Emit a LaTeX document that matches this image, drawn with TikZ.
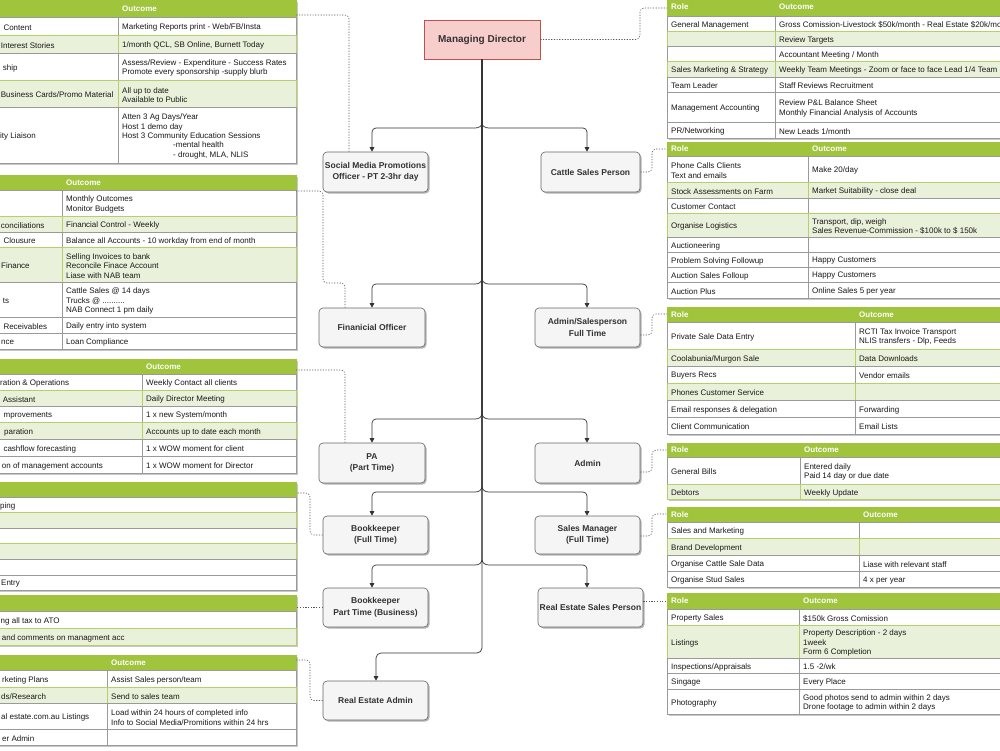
\documentclass[tikz,border=0pt]{standalone}
\usepackage{fontspec}
\setmainfont{Liberation Sans}
\usetikzlibrary{arrows.meta,shadows,calc}
\definecolor{hgreen}{HTML}{A0C43C}
\definecolor{lgreen}{HTML}{EAF1DA}
\definecolor{gline}{HTML}{B5CF6B}
\definecolor{wline}{HTML}{9A9A9A}
\definecolor{nodefill}{HTML}{F5F5F5}
\definecolor{nodeline}{HTML}{666666}
\definecolor{mdfill}{HTML}{F8CECC}
\definecolor{mdline}{HTML}{B85450}
\definecolor{txt}{HTML}{333333}
\newcounter{cellno}
\tikzset{
  tw/.style={fill=white, draw=wline, line width=0.6pt},
  tg/.style={fill=lgreen, draw=gline, line width=0.6pt},
  th/.style={fill=hgreen, draw=hgreen, line width=0.6pt},
  celltext/.style={anchor=west, inner sep=0pt, yshift=-1.5pt, align=left, font=\fontsize{8}{9.4}\selectfont, text=black!90},
  headtext/.style={anchor=west, inner sep=0pt, font=\bfseries\fontsize{8}{9.4}\selectfont, text=white},
  org/.style={rectangle, rounded corners=4pt, fill=nodefill, draw=nodeline, line width=0.6pt, align=center, inner xsep=1pt, font=\bfseries\fontsize{8.5}{11.5}\selectfont, text=txt, drop shadow={shadow xshift=1.5pt, shadow yshift=-1.5pt, opacity=0.3, fill=black}},
  mdbox/.style={rectangle, fill=mdfill, draw=mdline, line width=0.6pt, font=\bfseries\fontsize{10}{12}\selectfont, text=txt, minimum width=116pt, minimum height=39pt},
  conn/.style={draw=black!80, line width=0.7pt, -{Triangle[width=4.5pt,length=4.5pt]}},
  dotc/.style={draw=black!65, line width=0.6pt, dash pattern=on 1.2pt off 1.5pt, rounded corners=4pt},
  tshadow/.style={fill=black, opacity=0.22}
}
% #1 x0, #2 xs, #3 x2, #4 y0, #5 y1, #6 style, #7 rolex, #8 role, #9 outcome
\newcommand\tbrow[9]{%
  \draw[#6] (#1,#4) rectangle (#2,#5);
  \draw[#6] (#2,#4) rectangle (#3,#5);
  \stepcounter{cellno}%
  \node[celltext] (r\arabic{cellno}) at (#7,{(#4+#5)/2}) {#8};
  \node[celltext] (o\arabic{cellno}) at (#2+4,{(#4+#5)/2}) {#9};
}
% #1 x0, #2 xs, #3 x2, #4 y0, #5 y1, #6 rolex, #7 role, #8 outcome
\newcommand\tbhead[8]{%
  \draw[th] (#1,#4) rectangle (#3,#5);
  \stepcounter{cellno}%
  \node[headtext] (hr\arabic{cellno}) at (#6,{(#4+#5)/2}) {#7};
  \node[headtext] (ho\arabic{cellno}) at (#2+4,{(#4+#5)/2}) {#8};
}
\newcommand\tbshadow[4]{\fill[tshadow] (#1+2,#2+2) rectangle (#3+2,#4+2);}
\newcommand\brL[3]{\draw[conn] (md.south) -- (482,#3) .. controls (482,#2-2) and (479,#2) .. (475,#2) [rounded corners=4pt] -| (#1.north -| axL);}
\newcommand\brR[3]{\draw[conn] (md.south) -- (482,#3) .. controls (482,#2-2) and (485,#2) .. (489,#2) [rounded corners=4pt] -| (#1.north -| axR);}
\begin{document}
\begin{tikzpicture}[x=1pt,y=-1pt]
\useasboundingbox (0,0) rectangle (1000,750);
\clip (0,0) rectangle (1000,750);

% ---------- left tables ----------
\tbshadow{-200}{0}{296}{163}
\tbhead{-200}{118}{296}{0}{17}{-100}{}{Outcome}
\tbrow{-200}{118}{296}{17}{35}{tw}{3.3}{Content}{Marketing Reports print - Web/FB/Insta}
\tbrow{-200}{118}{296}{35}{53}{tg}{0.7}{Interest Stories}{1/month QCL, SB Online, Burnett Today}
\tbrow{-200}{118}{296}{53}{80}{tw}{2.7}{ship}{Assess/Review - Expenditure - Success Rates\\Promote every sponsorship -supply blurb}
\tbrow{-200}{118}{296}{80}{107}{tg}{0.7}{Business Cards/Promo Material}{All up to date\\Available to Public}
\tbrow{-200}{118}{296}{107}{163}{tw}{0}{ity Liaison}{Atten 3 Ag Days/Year\\Host 1 demo day\\Host 3 Community Education Sessions\\\hspace*{51pt}-mental health\\\hspace*{51pt}- drought, MLA, NLIS}

\tbshadow{-200}{175}{296}{349}
\tbhead{-200}{62}{296}{175}{190}{-100}{}{Outcome}
\tbrow{-200}{62}{296}{190}{216}{tw}{0}{}{Monthly Outcomes\\Monitor Budgets}
\tbrow{-200}{62}{296}{216}{232}{tg}{0.7}{conciliations}{Financial Control - Weekly}
\tbrow{-200}{62}{296}{232}{247}{tw}{3.3}{Clousure}{Balance all Accounts - 10 workday from end of month}
\tbrow{-200}{62}{296}{247}{282}{tg}{1}{Finance}{Selling Invoices to bank\\Reconcile Finace Account\\Liase with NAB team}
\tbrow{-200}{62}{296}{282}{317}{tw}{2.7}{ts}{Cattle Sales @ 14 days\\Trucks @ ..........\\NAB Connect 1 pm daily}
\tbrow{-200}{62}{296}{317}{333}{tw}{3.3}{Receivables}{Daily entry into system}
\tbrow{-200}{62}{296}{333}{349}{tw}{1}{nce}{Loan Compliance}

\tbshadow{-200}{359}{296}{473}
\tbhead{-200}{142}{296}{359}{374}{-100}{}{Outcome}
\tbrow{-200}{142}{296}{374}{390}{tw}{0}{ration \& Operations}{Weekly Contact all clients}
\tbrow{-200}{142}{296}{390}{406}{tg}{2.7}{Assistant}{Daily Director Meeting}
\tbrow{-200}{142}{296}{406}{422}{tw}{3.5}{mprovements}{1 x new System/month}
\tbrow{-200}{142}{296}{422}{439}{tg}{4}{paration}{Accounts up to date each month}
\tbrow{-200}{142}{296}{439}{456}{tw}{3.3}{cashflow forecasting}{1 x WOW moment for client}
\tbrow{-200}{142}{296}{456}{473}{tw}{1.7}{on of management accounts}{1 x WOW moment for Director}

\tbshadow{-200}{482}{296}{590}
\tbhead{-200}{-50}{296}{482}{497}{-100}{}{}
\tbrow{-200}{-50}{296}{497}{512}{tw}{0}{ping}{}
\tbrow{-200}{-50}{296}{512}{528}{tg}{0}{}{}
\tbrow{-200}{-50}{296}{528}{543}{tw}{0}{}{}
\tbrow{-200}{-50}{296}{543}{559}{tg}{0}{}{}
\tbrow{-200}{-50}{296}{559}{575}{tw}{0}{}{}
\tbrow{-200}{-50}{296}{575}{590}{tw}{1}{Entry}{}

\tbshadow{-200}{595}{296}{645}
\tbhead{-200}{-50}{296}{595}{611}{-100}{}{}
\tbrow{-200}{-50}{296}{611}{628}{tw}{0.5}{ng all tax to ATO}{}
\tbrow{-200}{-50}{296}{628}{645}{tg}{1.7}{and comments on managment acc}{}

\tbshadow{-200}{655}{296}{745}
\tbhead{-200}{107}{296}{655}{670}{-100}{}{Outcome}
\tbrow{-200}{107}{296}{670}{687}{tw}{2}{rketing Plans}{Assist Sales person/team}
\tbrow{-200}{107}{296}{687}{703}{tg}{1}{ds/Research}{Send to sales team}
\tbrow{-200}{107}{296}{703}{729}{tw}{1}{al estate.com.au Listings}{Load within 24 hours of completed info\\Info to Social Media/Promitions within 24 hrs}
\tbrow{-200}{107}{296}{729}{745}{tw}{2}{er Admin}{}

% ---------- right tables ----------
\tbshadow{667}{-2}{1010}{138}
\tbhead{667}{775}{1010}{-2}{16}{671}{Role}{Outcome}
\tbrow{667}{775}{1010}{16}{31}{tw}{671}{General Management}{Gross Comission-Livestock \$50k/month - Real Estate \$20k/month}
\tbrow{667}{775}{1010}{31}{46}{tg}{671}{}{Review Targets}
\tbrow{667}{775}{1010}{46}{61}{tw}{671}{}{Accountant Meeting / Month}
\tbrow{667}{775}{1010}{61}{77}{tg}{671}{Sales Marketing \& Strategy}{Weekly Team Meetings - Zoom or face to face Lead 1/4 Team M}
\tbrow{667}{775}{1010}{77}{92}{tw}{671}{Team Leader}{Staff Reviews Recruitment}
\tbrow{667}{775}{1010}{92}{122}{tw}{671}{Management Accounting}{Review P\&L Balance Sheet\\Monthly Financial Analysis of Accounts}
\tbrow{667}{775}{1010}{122}{138}{tw}{671}{PR/Networking}{New Leads 1/month}

\tbshadow{667}{142}{1010}{298}
\tbhead{667}{808}{1010}{142}{156}{671}{Role}{Outcome}
\tbrow{667}{808}{1010}{156}{182}{tw}{671}{Phone Calls Clients\\Text and emails}{Make 20/day}
\tbrow{667}{808}{1010}{182}{198}{tg}{671}{Stock Assessments on Farm}{Market Suitability - close deal}
\tbrow{667}{808}{1010}{198}{213}{tw}{671}{Customer Contact}{}
\tbrow{667}{808}{1010}{213}{237}{tg}{671}{Organise Logistics}{Transport, dip, weigh\\Sales Revenue-Commission - \$100k to \$ 150k}
\tbrow{667}{808}{1010}{237}{252}{tw}{671}{Auctioneering}{}
\tbrow{667}{808}{1010}{252}{267}{tw}{671}{Problem Solving Followup}{Happy Customers}
\tbrow{667}{808}{1010}{267}{282}{tw}{671}{Auction Sales Folloup}{Happy Customers}
\tbrow{667}{808}{1010}{282}{298}{tw}{671}{Auction Plus}{Online Sales 5 per year}

\tbshadow{667}{307}{1010}{434}
\tbhead{667}{855}{1010}{307}{322}{671}{Role}{Outcome}
\tbrow{667}{855}{1010}{322}{349}{tw}{671}{Private Sale Data Entry}{RCTI Tax Invoice Transport\\NLIS transfers - Dlp, Feeds}
\tbrow{667}{855}{1010}{349}{366}{tg}{671}{Coolabunia/Murgon Sale}{Data Downloads}
\tbrow{667}{855}{1010}{366}{383}{tw}{671}{Buyers Recs}{Vendor emails}
\tbrow{667}{855}{1010}{383}{400}{tg}{671}{Phones Customer Service}{}
\tbrow{667}{855}{1010}{400}{417}{tw}{671}{Email responses \& delegation}{Forwarding}
\tbrow{667}{855}{1010}{417}{434}{tw}{671}{Client Communication}{Email Lists}

\tbshadow{667}{443}{1010}{499}
\tbhead{667}{800}{1010}{443}{457}{671}{Role}{Outcome}
\tbrow{667}{800}{1010}{457}{484}{tw}{671}{General Bills}{Entered daily\\Paid 14 day or due date}
\tbrow{667}{800}{1010}{484}{499}{tg}{671}{Debtors}{Weekly Update}

\tbshadow{667}{507}{1010}{587}
\tbhead{667}{859}{1010}{507}{522}{671}{Role}{Outcome}
\tbrow{667}{859}{1010}{522}{538}{tw}{671}{Sales and Marketing}{}
\tbrow{667}{859}{1010}{538}{555}{tg}{671}{Brand Development}{}
\tbrow{667}{859}{1010}{555}{571}{tw}{671}{Organise Cattle Sale Data}{Liase with relevant staff}
\tbrow{667}{859}{1010}{571}{587}{tw}{671}{Organise Stud Sales}{4 x per year}

\tbshadow{667}{593}{1010}{714}
\tbhead{667}{799}{1010}{593}{609}{671}{Role}{Outcome}
\tbrow{667}{799}{1010}{609}{625}{tw}{671}{Property Sales}{\$150k Gross Comission}
\tbrow{667}{799}{1010}{625}{658}{tg}{671}{Listings}{Property Description - 2 days\\1week\\Form 6 Completion}
\tbrow{667}{799}{1010}{658}{673}{tw}{671}{Inspections/Appraisals}{1.5 -2/wk}
\tbrow{667}{799}{1010}{673}{689}{tw}{671}{Singage}{Every Place}
\tbrow{667}{799}{1010}{689}{714}{tw}{671}{Photography}{Good photos send to admin within 2 days\\Drone footage to admin within 2 days}

% ---------- org nodes ----------
\node[mdbox] (md) at (482,39.5) {Managing Director};
\node[org, minimum width=105pt, minimum height=40pt] (smo) at (375.5,172) {Social Media Promotions\\Officer - PT 2-3hr day};
\node[org, minimum width=99pt, minimum height=40pt] (csp) at (590.5,172) {Cattle Sales Person};
\node[org, minimum width=106pt, minimum height=39pt] (fo) at (372,327.5) {Finanicial Officer};
\node[org, minimum width=105pt, minimum height=39pt] (asp) at (587.5,327.5) {Admin/Salesperson\\Full Time};
\node[org, minimum width=106pt, minimum height=40pt] (pa) at (372,463) {PA\\(Part Time)};
\node[org, minimum width=105pt, minimum height=40pt] (adm) at (587.5,463) {Admin};
\node[org, minimum width=105pt, minimum height=38pt] (bk) at (375.5,535) {Bookkeeper\\(Full Time)};
\node[org, minimum width=105pt, minimum height=38pt] (sm) at (587.5,535) {Sales Manager\\(Full Time)};
\node[org, minimum width=105pt, minimum height=39pt] (bkp) at (375.5,607.5) {Bookkeeper\\Part Time (Business)};
\node[org, minimum width=105pt, minimum height=39pt] (resp) at (590.5,607.5) {Real Estate Sales Person};
\node[org, minimum width=105pt, minimum height=39pt] (rea) at (375.5,700.5) {Real Estate Admin};

\coordinate (axL) at (372,0);
\coordinate (axR) at (587,0);
\coordinate (axE) at (376,0);

% ---------- hierarchy connectors ----------
\draw[conn, rounded corners=5pt] (md.south) -- (482,653) -| (rea.north -| axE);
\brL{smo}{128}{123} \brR{csp}{128}{123}
\brL{fo}{284}{278}  \brR{asp}{284}{278}
\brL{pa}{419}{413}  \brR{adm}{419}{413}
\brL{bk}{492}{486}  \brR{sm}{492}{486}
\brL{bkp}{565}{559} \brR{resp}{565}{559}

% ---------- dotted connectors to tables ----------
\coordinate (tR1) at (667,8);
\coordinate (tR2) at (667,149);
\coordinate (tR3) at (667,314);
\coordinate (tR4) at (667,450);
\coordinate (tR5) at (667,514);
\coordinate (tR6) at (667,601);
\coordinate (tL1) at (296,15);
\coordinate (tL2) at (296,191);
\coordinate (tL3) at (296,370);
\coordinate (tL4) at (296,493);
\coordinate (tL5) at (296,607.5);
\coordinate (tL6) at (296,660);
\draw[dotc] (md.east) -- (640,39.5) -- (640,8) -- (tR1);
\draw[dotc] (csp.east) -- (652,172) -- (652,149) -- (tR2);
\draw[dotc] ($(asp.east)+(0,7.5)$) -- (652,335) -- (652,314) -- (tR3);
\draw[dotc] ($(adm.east)+(0,9)$) -- (652,472) -- (652,450) -- (tR4);
\draw[dotc] ($(sm.east)+(0,1)$) -- (652,536) -- (652,514) -- (tR5);
\draw[dotc] ($(resp.east)+(0,-6.5)$) -- (tR6);
\draw[dotc] ($(smo.north)+(-26.5,0)$) -- (349,15) -- (tL1);
\draw[dotc] ($(fo.north)+(-27,0)$) -- (345,283) -- (323,283) -- (323,191) -- (tL2);
\draw[dotc] ($(pa.north)+(-27,0)$) -- (345,370) -- (tL3);
\draw[dotc] (bk.west) -- (310,535) -- (310,493) -- (tL4);
\draw[dotc] (bkp.west) -- (tL5);
\draw[dotc] (rea.west) -- (310,700.5) -- (310,660) -- (tL6);
\end{tikzpicture}
\end{document}
